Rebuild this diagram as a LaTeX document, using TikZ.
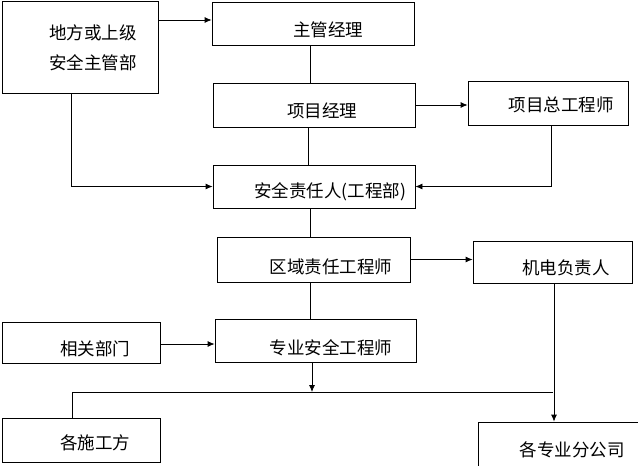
\documentclass[tikz,border=0pt]{standalone}
\usepackage{fontspec}
\newfontfamily\cjk{Noto Sans CJK SC}
\usetikzlibrary{arrows.meta}

\tikzset{
  box/.style 2 args={draw, inner sep=0pt, minimum width=#1, minimum height=#2},
  lbl/.style={font=\cjk\fontsize{17.5}{30}\selectfont, inner sep=0pt, align=center},
}

\begin{document}
\begin{tikzpicture}[x=1pt, y=-1pt, line width=0.8pt, >={Latex[length=7pt,width=6pt]}]
  \path[use as bounding box, clip] (0,0) rectangle (638,466);

  % Boxes
  \node[box={156}{92}]  (local)  at (80,47)    {};
  \node[box={202}{43}]  (chief)  at (313,23.5) {};
  \node[box={202}{44}]  (pm)     at (314,105)  {};
  \node[box={160}{44}]  (engr)   at (548,103)  {};
  \node[box={202}{43}]  (safety) at (314,186.5){};
  \node[box={193}{45}]  (area)   at (313.5,259.5) {};
  \node[box={159}{42}]  (mech)   at (552.5,262) {};
  \node[box={158}{41}]  (rel)    at (81,342.5) {};
  \node[box={201}{43}]  (spec)   at (315.5,340.5) {};
  \node[box={158}{44}]  (crew)   at (81,440)   {};
  \node[box={182}{68}]  (branch) at (569,456)  {};

  % Labels
  \node[lbl] (tlocal)  at (93,48)   {地方或上级\\安全主管部};
  \node[lbl] (tchief)  at (328,30)  {主管经理};
  \node[lbl] (tpm)     at (322,111) {项目经理};
  \node[lbl] (tengr)   at (561,105) {项目总工程师};
  \node[lbl] (tsafety) at (330,192) {安全责任人(工程部)};
  \node[lbl] (tarea)   at (331,267) {区域责任工程师};
  \node[lbl] (tmech)   at (566,268) {机电负责人};
  \node[lbl] (trel)    at (95,349)  {相关部门};
  \node[lbl] (tspec)   at (331,348) {专业安全工程师};
  \node[lbl] (tcrew)   at (95,443)  {各施工方};
  \node[lbl] (tbranch) at (572,450) {各专业分公司};

  % Bus line
  \coordinate (busL) at (72,392);
  \coordinate (busR) at (553,392);
  \draw (busL) -- (busR);

  % Connectors
  \draw[->] (local.east |- 0,20) -- (chief.west |- 0,20);
  \draw (chief.south -| 310,0) -- (pm.north -| 310,0);
  \draw (pm.south -| 308,0) -- (safety.north -| 308,0);
  \draw[->] ([xshift=-9]local.south) |- (safety.west);
  \draw[->] (pm.east) -- (engr.west |- pm.east);
  \draw[->] ([xshift=3]engr.south) |- (safety.east);
  \draw (safety.south -| 310,0) -- (area.north -| 310,0);
  \draw[->] (area.east) -- (mech.west |- area.east);
  \draw (area.south -| 310,0) -- (spec.north -| 310,0);
  \draw[->] (rel.east |- 0,344) -- (spec.west |- 0,344);
  \draw[->] (spec.south -| 312,0) -- (busL -| 312,0);
  \draw (crew.north -| busL) -- (busL);
  \draw[->] ([xshift=1.5]mech.south) -- ([xshift=1.5]mech.south |- branch.north);
\end{tikzpicture}
\end{document}
